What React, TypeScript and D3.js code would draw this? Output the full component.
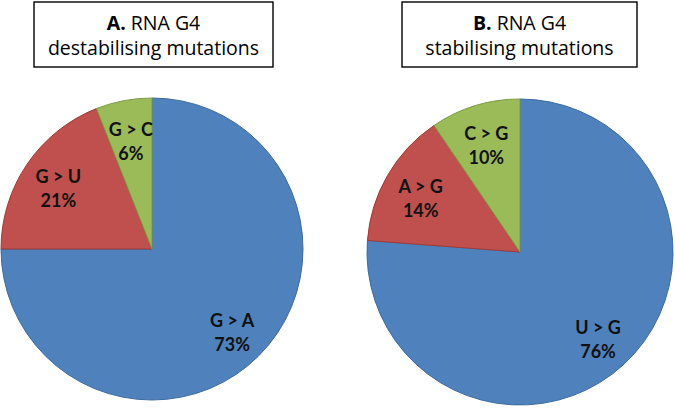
import React from "react";
import * as d3 from "d3";

const pieATitle = ["A.", "RNA G4", "destabilising mutations"];
const pieALabels = ["G > A", "G > U", "G > C"];
const pieAPercentText = ["73%", "21%", "6%"];
const pieAValues = [75, 19, 6];

const pieBTitle = ["B.", "RNA G4", "stabilising mutations"];
const pieBLabels = ["U > G", "A > G", "C > G"];
const pieBPercentText = ["76%", "14%", "10%"];
const pieBValues = [76.2, 14.3, 9.5];

const sliceColors = ["#4F81BD", "#C0504D", "#9BBB59"];
const sliceStrokes = ["#3C6A9E", "#9E3B38", "#7E9B45"];

const TITLE_FONT = "'Open Sans', Lato, sans-serif";
const LABEL_FONT = "Lato, 'Open Sans', sans-serif";

function Pie({
  cx, cy, r, labels, pct, values, title, box,
}: {
  cx: number; cy: number; r: number; labels: string[]; pct: string[]; values: number[]; title: string[];
  box: { x0: number; x1: number; y0: number; y1: number };
}) {
  const pie = d3.pie<number>().sort(null).value((d) => d);
  const arcs = pie(values);
  const arc = d3.arc<d3.PieArcDatum<number>>().innerRadius(0).outerRadius(r);
  const labelArc = d3.arc<d3.PieArcDatum<number>>().innerRadius(r * 0.75).outerRadius(r * 0.75);
  const bx = (box.x0 + box.x1) / 2;
  return (
    <g>
      <rect x={box.x0} y={box.y0} width={box.x1 - box.x0} height={box.y1 - box.y0} fill="#fff" stroke="#000" strokeWidth={1.4} />
      <text x={bx} y={box.y0 + 28} textAnchor="middle" fontFamily={TITLE_FONT} fontSize={19.5} fill="#000">
        <tspan fontWeight="bold">{title[0]}</tspan>
        <tspan> {title[1]}</tspan>
      </text>
      <text x={bx} y={box.y0 + 53} textAnchor="middle" fontFamily={TITLE_FONT} fontSize={19.5} fill="#000">
        {title[2]}
      </text>
      <g transform={`translate(${cx},${cy})`}>
        {arcs.map((a, i) => (
          <path key={i} d={arc(a) || ""} fill={sliceColors[i]} stroke={sliceStrokes[i]} strokeWidth={1} />
        ))}
        {arcs.map((a, i) => {
          const [lx, ly] = labelArc.centroid(a);
          return (
            <text key={"l" + i} x={lx} y={ly} textAnchor="middle" fontFamily={LABEL_FONT} fontWeight="bold" fontSize={18} fill="#111">
              <tspan x={lx} dy={-2}>{labels[i]}</tspan>
              <tspan x={lx} dy={24}>{pct[i]}</tspan>
            </text>
          );
        })}
      </g>
    </g>
  );
}

export default function App() {
  return (
    <svg width={675} height={408} style={{ position: "absolute", left: 0, top: 0, background: "#fff" }}>
      <rect width={675} height={408} fill="#fff" />
      <Pie cx={152} cy={249} r={151} labels={pieALabels} pct={pieAPercentText} values={pieAValues} title={pieATitle}
        box={{ x0: 34, x1: 273, y0: 2, y1: 67 }} />
      <Pie cx={520} cy={252} r={153} labels={pieBLabels} pct={pieBPercentText} values={pieBValues} title={pieBTitle}
        box={{ x0: 402, x1: 637, y0: 2, y1: 67 }} />
    </svg>
  );
}
